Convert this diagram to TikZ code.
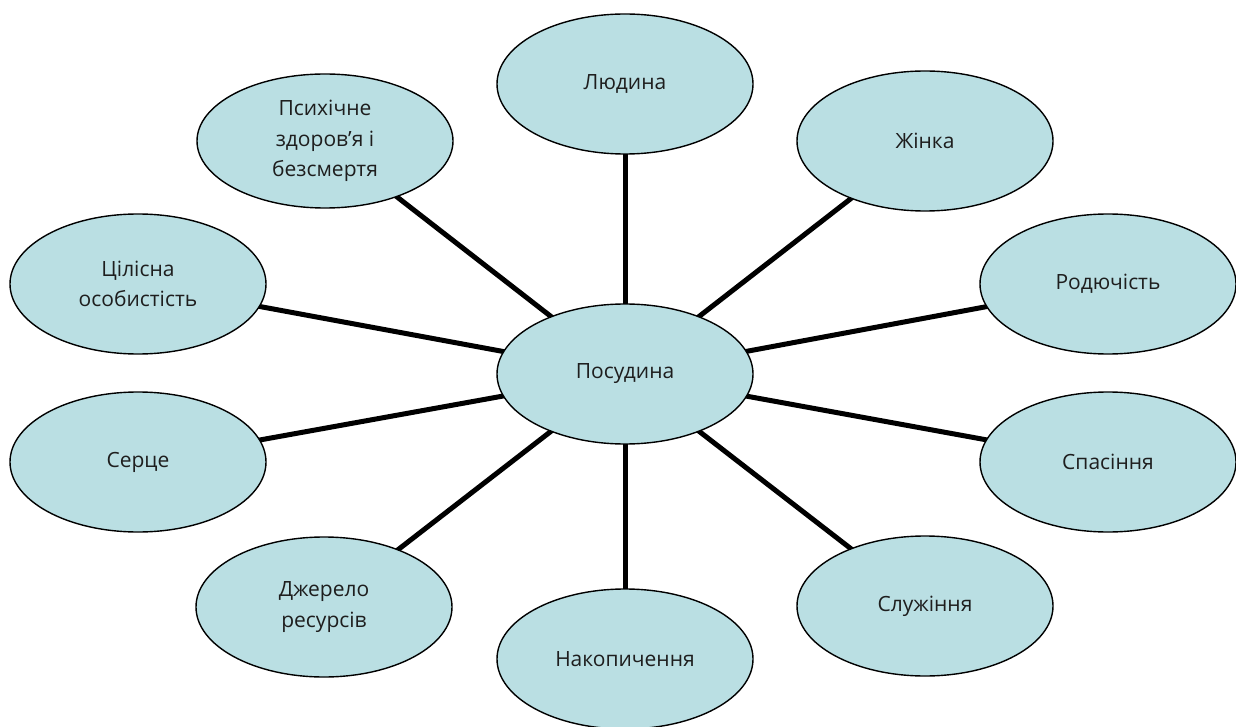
\documentclass[tikz,border=0pt]{standalone}
\usepackage{fontspec}
\setmainfont{Open Sans}
\usetikzlibrary{shapes.geometric,backgrounds}
\definecolor{bubble}{RGB}{186,223,227}
\definecolor{txt}{RGB}{30,30,30}
\tikzset{
  bub/.style={ellipse,draw=black,line width=1.4pt,fill=bubble,minimum width=256pt,minimum height=140pt,inner sep=0pt,align=center,text=txt,font=\fontsize{21}{30.5}\selectfont},
  spoke/.style={line width=5pt,draw=black}
}
\begin{document}
\begin{tikzpicture}[x=1pt,y=-1pt]
\useasboundingbox (0,0) rectangle (1236,727);
\node[bub] (c) at (625,374) {Посудина};
\node[bub] (n1) at (625,84) {Людина};
\node[bub] (n2) at (925,141) {Жінка};
\node[bub] (n3) at (1108,284) {Родючість};
\node[bub] (n4) at (1108,462) {Спасіння};
\node[bub] (n5) at (925,606) {Служіння};
\node[bub] (n6) at (625,659) {Накопичення};
\node[bub] (n7) at (324,607) {Джерело\\ресурсів};
\node[bub] (n8) at (138,462) {Серце};
\node[bub] (n9) at (138,284) {Цілісна\\особистість};
\node[bub,minimum height=134pt] (n10) at (325,141) {Психічне\\здоров’я і\\безсмертя};
\begin{scope}[on background layer]
\foreach \n in {n1,n2,n3,n4,n5,n6,n7,n8,n9,n10}
  \draw[spoke] (c.center) -- (\n.center);
\end{scope}
\end{tikzpicture}
\end{document}
